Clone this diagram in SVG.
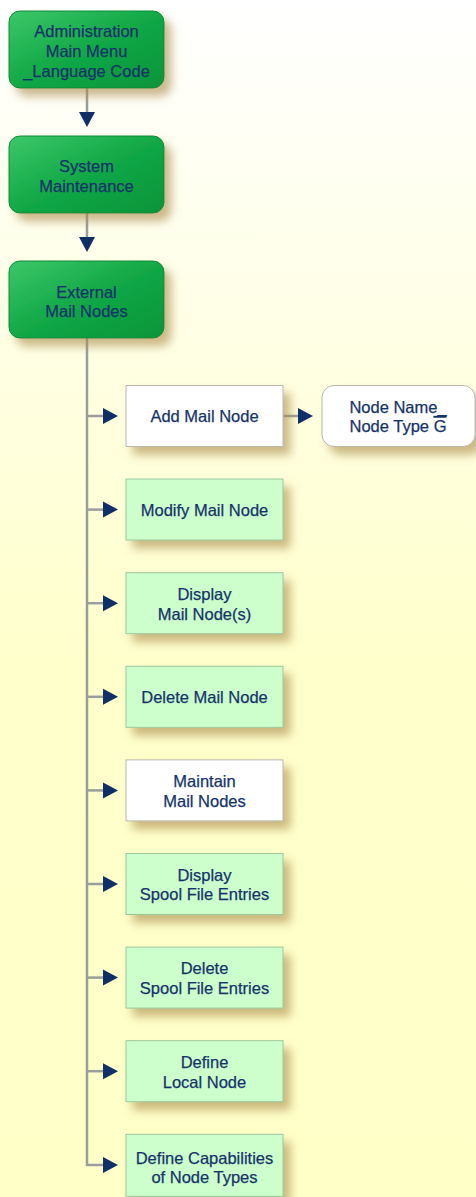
<svg xmlns="http://www.w3.org/2000/svg" width="476" height="1197" viewBox="0 0 476 1197">
<defs>
<linearGradient id="bg" x1="0" y1="0" x2="0" y2="1">
<stop offset="0" stop-color="#FFFFFF"/>
<stop offset="0.55" stop-color="#FFFFCC"/>
<stop offset="1" stop-color="#FFFFC8"/>
</linearGradient>
<linearGradient id="grn" x1="0" y1="0" x2="1" y2="1">
<stop offset="0" stop-color="#3CC76A"/>
<stop offset="0.5" stop-color="#12A847"/>
<stop offset="1" stop-color="#06943A"/>
</linearGradient>
<filter id="sh" x="-20%" y="-20%" width="150%" height="170%">
<feGaussianBlur in="SourceAlpha" stdDeviation="5"/>
<feOffset dx="7" dy="8" result="b"/>
<feFlood flood-color="#A88A4A" flood-opacity="0.6"/>
<feComposite in2="b" operator="in"/>
<feMerge><feMergeNode/><feMergeNode in="SourceGraphic"/></feMerge>
</filter>
</defs>
<style>
.t{font-family:"Liberation Sans",Arial,sans-serif;font-size:16.5px;fill:#15336A;stroke:#15336A;stroke-width:0.25;text-anchor:middle}
.g{fill:url(#grn);stroke:#0A8A36;stroke-width:1;filter:url(#sh)}
.lg{fill:#CCFFCC;stroke:#9CC89C;stroke-width:1;filter:url(#sh)}
.w{fill:#FFFFFF;stroke:#B8B8B0;stroke-width:1;filter:url(#sh)}
.c{fill:none;stroke:#9A9E9A;stroke-width:2.5}
.a{fill:#0F2F66}
</style>
<rect width="476" height="1197" fill="url(#bg)"/>
<g id="connectors">
<line class="c" x1="87" y1="88" x2="87" y2="113"/>
<path class="a" d="M79,112 L95,112 L87,127 Z"/>
<line class="c" x1="87" y1="213" x2="87" y2="238"/>
<path class="a" d="M79,237 L95,237 L87,252 Z"/>
<path class="c" d="M87,338 V1165 H104"/>
<line class="c" x1="87" y1="416" x2="104" y2="416"/>
<line class="c" x1="87" y1="509.6" x2="104" y2="509.6"/>
<line class="c" x1="87" y1="603.2" x2="104" y2="603.2"/>
<line class="c" x1="87" y1="696.8" x2="104" y2="696.8"/>
<line class="c" x1="87" y1="790.4" x2="104" y2="790.4"/>
<line class="c" x1="87" y1="884" x2="104" y2="884"/>
<line class="c" x1="87" y1="977.6" x2="104" y2="977.6"/>
<line class="c" x1="87" y1="1071.2" x2="104" y2="1071.2"/>
<path class="a" d="M103,408 L118,416 L103,424 Z"/>
<path class="a" d="M103,501.6 L118,509.6 L103,517.6 Z"/>
<path class="a" d="M103,595.2 L118,603.2 L103,611.2 Z"/>
<path class="a" d="M103,688.8 L118,696.8 L103,704.8 Z"/>
<path class="a" d="M103,782.4 L118,790.4 L103,798.4 Z"/>
<path class="a" d="M103,876 L118,884 L103,892 Z"/>
<path class="a" d="M103,969.6 L118,977.6 L103,985.6 Z"/>
<path class="a" d="M103,1063.2 L118,1071.2 L103,1079.2 Z"/>
<path class="a" d="M103,1157 L118,1165 L103,1173 Z"/>
<line class="c" x1="283" y1="416" x2="299" y2="416"/>
<path class="a" d="M298,408 L313,416 L298,424 Z"/>
</g>
<g id="n1"><rect class="g" x="9" y="11" width="155" height="77" rx="11"/>
<text class="t" x="86.5" y="37">Administration</text><text class="t" x="86.5" y="57">Main Menu</text><text class="t" x="86.5" y="77">_Language Code</text></g>
<g id="n2"><rect class="g" x="9" y="136" width="155" height="77" rx="11"/>
<text class="t" x="86.5" y="172">System</text><text class="t" x="86.5" y="192">Maintenance</text></g>
<g id="n3"><rect class="g" x="9" y="261" width="155" height="77" rx="11"/>
<text class="t" x="86.5" y="298">External</text><text class="t" x="86.5" y="317">Mail Nodes</text></g>
<g id="c1"><rect class="w" x="126" y="385.5" width="157" height="61"/>
<text class="t" x="204.5" y="422">Add Mail Node</text></g>
<g id="c1b"><rect class="w" x="322" y="385.5" width="153" height="61" rx="12"/>
<text class="t" x="398" y="413">Node Name_</text><text class="t" x="398" y="432">Node Type <tspan style="text-decoration:overline">G</tspan></text></g>
<g id="c2"><rect class="lg" x="126" y="479" width="157" height="61"/>
<text class="t" x="204.5" y="515.6">Modify Mail Node</text></g>
<g id="c3"><rect class="lg" x="126" y="572.7" width="157" height="61"/>
<text class="t" x="204.5" y="600">Display</text><text class="t" x="204.5" y="619.5">Mail Node(s)</text></g>
<g id="c4"><rect class="lg" x="126" y="666.3" width="157" height="61"/>
<text class="t" x="204.5" y="702.8">Delete Mail Node</text></g>
<g id="c5"><rect class="w" x="126" y="759.9" width="157" height="61"/>
<text class="t" x="204.5" y="787.2">Maintain</text><text class="t" x="204.5" y="806.7">Mail Nodes</text></g>
<g id="c6"><rect class="lg" x="126" y="853.5" width="157" height="61"/>
<text class="t" x="204.5" y="880.8">Display</text><text class="t" x="204.5" y="900.3">Spool File Entries</text></g>
<g id="c7"><rect class="lg" x="126" y="947.1" width="157" height="61"/>
<text class="t" x="204.5" y="974.4">Delete</text><text class="t" x="204.5" y="993.9">Spool File Entries</text></g>
<g id="c8"><rect class="lg" x="126" y="1040.7" width="157" height="61"/>
<text class="t" x="204.5" y="1068">Define</text><text class="t" x="204.5" y="1087.5">Local Node</text></g>
<g id="c9"><rect class="lg" x="126" y="1134.3" width="157" height="62"/>
<text class="t" x="204.5" y="1163.5">Define Capabilities</text><text class="t" x="204.5" y="1182.5">of Node Types</text></g>
</svg>
